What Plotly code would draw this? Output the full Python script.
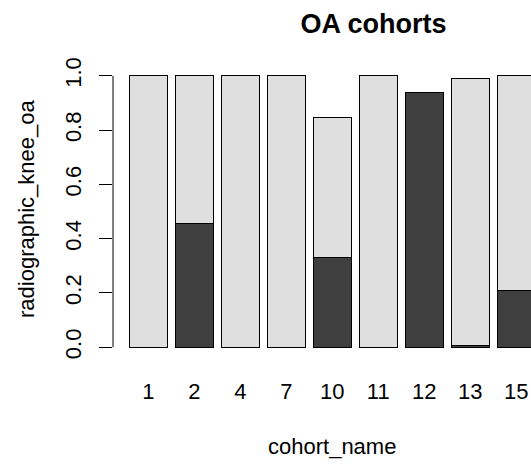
import plotly.graph_objects as go

cohorts = ["1", "2", "4", "7", "10", "11", "12", "13", "15"]
oa_yes = [0.0, 0.454, 0.0, 0.0, 0.332, 0.0, 0.937, 0.007, 0.209]
oa_no = [1.0, 0.546, 1.0, 1.0, 0.514, 1.0, 0.0, 0.982, 0.791]
y_ticks = [0.0, 0.2, 0.4, 0.6, 0.8, 1.0]
y_ticktext = ["0.0", "0.2", "0.4", "0.6", "0.8", "1.0"]

FONT = "Liberation Sans, Arial, Helvetica, sans-serif"
W, H = 531, 464
L, R, T, B = 113, 0, 65, 106
PH = H - T - B
PW = W - L - R

fig = go.Figure()
fig.add_trace(go.Bar(x=cohorts, y=oa_yes, marker=dict(color="#3f3f3f", line=dict(color="#000000", width=1)),
                     showlegend=False))
fig.add_trace(go.Bar(x=cohorts, y=oa_no, marker=dict(color="#dfdfdf", line=dict(color="#000000", width=1)),
                     showlegend=False))

fig.update_layout(
    width=W, height=H,
    margin=dict(l=L, r=R, t=T, b=B, pad=0),
    barmode="stack", bargap=1/6,
    plot_bgcolor="white", paper_bgcolor="white",
    font=dict(family=FONT, size=22, color="#000000"),
    title=dict(text="<b>OA cohorts</b>", x=331 / W, xanchor="center", xref="paper",
               y=1 - 24 / H, yanchor="middle", font=dict(size=27, family=FONT)),
    xaxis=dict(type="category", range=[-0.77, 8.323], showgrid=False, zeroline=False, showline=False,
               ticks="outside", ticklen=14, tickcolor="rgba(0,0,0,0)", tickfont=dict(size=22)),
    yaxis=dict(range=[-0.04, 1.04], showgrid=False, zeroline=False, showline=False,
               tickvals=y_ticks, ticktext=y_ticktext, ticks="outside", ticklen=13, tickwidth=1,
               tickcolor="#000000", tickangle=-90, tickfont=dict(size=22), ticklabelstandoff=9),
    shapes=[dict(type="line", xref="paper", yref="y", x0=0, x1=0, y0=0, y1=1,
                 line=dict(color="#000000", width=1))],
    annotations=[
        dict(text="cohort_name", xref="paper", yref="paper", x=(332 - L) / PW, y=(T + PH - 446) / PH,
             xanchor="center", yanchor="middle", showarrow=False, font=dict(size=22)),
        dict(text="radiographic_knee_oa", xref="paper", yref="paper", x=(26 - L) / PW, y=(T + PH - 209) / PH,
             xanchor="center", yanchor="middle", textangle=-90, showarrow=False, font=dict(size=22)),
    ],
)

fig.write_html("out.html", config={"displayModeBar": False},
               post_script="document.body.style.margin='0';document.body.style.padding='0';"
                           "document.documentElement.style.overflow='hidden';")
